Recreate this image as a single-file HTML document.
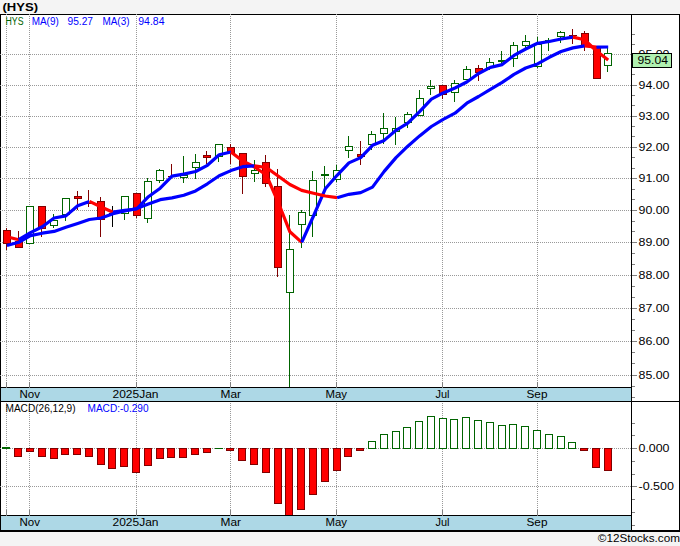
<!DOCTYPE html><html><head><meta charset="utf-8"><style>html,body{margin:0;padding:0;background:#f4f4f4;width:680px;height:546px;overflow:hidden}</style></head><body><svg width="680" height="546" viewBox="0 0 680 546" style="position:absolute;left:0;top:0;font-family:'Liberation Sans',sans-serif">
<rect x="0" y="0" width="680" height="546" fill="#f4f4f4"/>
<rect x="0" y="14" width="680" height="517" fill="#fff"/>
<rect x="1" y="388" width="630" height="13" fill="#add8e6" shape-rendering="crispEdges"/>
<rect x="1" y="516" width="630" height="14" fill="#add8e6" shape-rendering="crispEdges"/>
<g stroke="#000" stroke-width="1" shape-rendering="crispEdges">
<line x1="0" y1="387.5" x2="631" y2="387.5"/>
<line x1="0" y1="401.5" x2="680" y2="401.5"/>
<line x1="0" y1="515.5" x2="631" y2="515.5"/>
</g>
<g fill="#000" shape-rendering="crispEdges">
<rect x="0" y="14" width="680" height="1"/>
<rect x="0" y="14" width="1" height="518"/>
<rect x="679" y="14" width="1" height="518"/>
<rect x="0" y="530" width="680" height="2"/>
<rect x="631" y="14" width="1" height="517"/>
</g>
<g stroke="#999999" stroke-width="1" stroke-dasharray="1 1" shape-rendering="crispEdges" fill="none">
<line x1="0" y1="54.5" x2="631" y2="54.5"/>
<line x1="0" y1="85.5" x2="631" y2="85.5"/>
<line x1="0" y1="116.5" x2="631" y2="116.5"/>
<line x1="0" y1="147.5" x2="631" y2="147.5"/>
<line x1="0" y1="178.5" x2="631" y2="178.5"/>
<line x1="0" y1="210.5" x2="631" y2="210.5"/>
<line x1="0" y1="242.5" x2="631" y2="242.5"/>
<line x1="0" y1="275.5" x2="631" y2="275.5"/>
<line x1="0" y1="308.5" x2="631" y2="308.5"/>
<line x1="0" y1="341.5" x2="631" y2="341.5"/>
<line x1="0" y1="375.5" x2="631" y2="375.5"/>
<line x1="0" y1="448.5" x2="631" y2="448.5"/>
<line x1="0" y1="486.5" x2="631" y2="486.5"/>
<line x1="6.5" y1="14" x2="6.5" y2="382"/>
<line x1="6.5" y1="403" x2="6.5" y2="510"/>
<line x1="29.5" y1="14" x2="29.5" y2="382"/>
<line x1="29.5" y1="403" x2="29.5" y2="510"/>
<line x1="136.5" y1="14" x2="136.5" y2="382"/>
<line x1="136.5" y1="403" x2="136.5" y2="510"/>
<line x1="230.5" y1="14" x2="230.5" y2="382"/>
<line x1="230.5" y1="403" x2="230.5" y2="510"/>
<line x1="336.5" y1="14" x2="336.5" y2="382"/>
<line x1="336.5" y1="403" x2="336.5" y2="510"/>
<line x1="442.5" y1="14" x2="442.5" y2="382"/>
<line x1="442.5" y1="403" x2="442.5" y2="510"/>
<line x1="537.5" y1="14" x2="537.5" y2="382"/>
<line x1="537.5" y1="403" x2="537.5" y2="510"/>
</g>
<g shape-rendering="crispEdges" stroke-width="1">
<rect x="2" y="447" width="8" height="2" fill="#006400"/>
<rect x="14.5" y="448.5" width="7" height="8" fill="#ff0000" stroke="#800000"/>
<rect x="26.5" y="448.5" width="7" height="3" fill="#ff0000" stroke="#800000"/>
<rect x="38.5" y="448.5" width="7" height="8" fill="#ff0000" stroke="#800000"/>
<rect x="50.5" y="448.5" width="7" height="10" fill="#ff0000" stroke="#800000"/>
<rect x="61.5" y="448.5" width="7" height="6" fill="#ff0000" stroke="#800000"/>
<rect x="73.5" y="448.5" width="7" height="6" fill="#ff0000" stroke="#800000"/>
<rect x="85.5" y="448.5" width="7" height="8" fill="#ff0000" stroke="#800000"/>
<rect x="97.5" y="448.5" width="7" height="16" fill="#ff0000" stroke="#800000"/>
<rect x="108.5" y="448.5" width="7" height="20" fill="#ff0000" stroke="#800000"/>
<rect x="120.5" y="448.5" width="7" height="18" fill="#ff0000" stroke="#800000"/>
<rect x="132.5" y="448.5" width="7" height="24" fill="#ff0000" stroke="#800000"/>
<rect x="144.5" y="448.5" width="7" height="17" fill="#ff0000" stroke="#800000"/>
<rect x="156.5" y="448.5" width="7" height="10" fill="#ff0000" stroke="#800000"/>
<rect x="167.5" y="448.5" width="7" height="9" fill="#ff0000" stroke="#800000"/>
<rect x="179.5" y="448.5" width="7" height="9" fill="#ff0000" stroke="#800000"/>
<rect x="191.5" y="448.5" width="7" height="6" fill="#ff0000" stroke="#800000"/>
<rect x="203.5" y="448.5" width="7" height="4" fill="#ff0000" stroke="#800000"/>
<rect x="215" y="448" width="8" height="1" fill="#006400"/>
<rect x="226.5" y="448.5" width="7" height="2" fill="#ff0000" stroke="#800000"/>
<rect x="238.5" y="448.5" width="7" height="12" fill="#ff0000" stroke="#800000"/>
<rect x="250.5" y="448.5" width="7" height="16" fill="#ff0000" stroke="#800000"/>
<rect x="262.5" y="448.5" width="7" height="24" fill="#ff0000" stroke="#800000"/>
<rect x="274.5" y="448.5" width="7" height="55" fill="#ff0000" stroke="#800000"/>
<rect x="285.5" y="448.5" width="7" height="68" fill="#ff0000" stroke="#800000"/>
<rect x="297.5" y="448.5" width="7" height="61" fill="#ff0000" stroke="#800000"/>
<rect x="309.5" y="448.5" width="7" height="46" fill="#ff0000" stroke="#800000"/>
<rect x="321.5" y="448.5" width="7" height="33" fill="#ff0000" stroke="#800000"/>
<rect x="333.5" y="448.5" width="7" height="22" fill="#ff0000" stroke="#800000"/>
<rect x="344.5" y="448.5" width="7" height="8" fill="#ff0000" stroke="#800000"/>
<rect x="356.5" y="448.5" width="7" height="2" fill="#ff0000" stroke="#800000"/>
<rect x="368.5" y="441.5" width="7" height="7" fill="#fff" stroke="#006400"/>
<rect x="380.5" y="434.5" width="7" height="14" fill="#fff" stroke="#006400"/>
<rect x="392.5" y="431.5" width="7" height="17" fill="#fff" stroke="#006400"/>
<rect x="403.5" y="427.5" width="7" height="21" fill="#fff" stroke="#006400"/>
<rect x="415.5" y="421.5" width="7" height="27" fill="#fff" stroke="#006400"/>
<rect x="427.5" y="416.5" width="7" height="32" fill="#fff" stroke="#006400"/>
<rect x="439.5" y="418.5" width="7" height="30" fill="#fff" stroke="#006400"/>
<rect x="450.5" y="419.5" width="7" height="29" fill="#fff" stroke="#006400"/>
<rect x="462.5" y="417.5" width="7" height="31" fill="#fff" stroke="#006400"/>
<rect x="474.5" y="420.5" width="7" height="28" fill="#fff" stroke="#006400"/>
<rect x="486.5" y="422.5" width="7" height="26" fill="#fff" stroke="#006400"/>
<rect x="498.5" y="425.5" width="7" height="23" fill="#fff" stroke="#006400"/>
<rect x="509.5" y="424.5" width="7" height="24" fill="#fff" stroke="#006400"/>
<rect x="521.5" y="426.5" width="7" height="22" fill="#fff" stroke="#006400"/>
<rect x="533.5" y="430.5" width="7" height="18" fill="#fff" stroke="#006400"/>
<rect x="545.5" y="434.5" width="7" height="14" fill="#fff" stroke="#006400"/>
<rect x="557.5" y="436.5" width="7" height="12" fill="#fff" stroke="#006400"/>
<rect x="568.5" y="442.5" width="7" height="6" fill="#fff" stroke="#006400"/>
<rect x="580.5" y="448.5" width="7" height="2" fill="#ff0000" stroke="#800000"/>
<rect x="592.5" y="448.5" width="7" height="19" fill="#ff0000" stroke="#800000"/>
<rect x="604.5" y="448.5" width="7" height="22" fill="#ff0000" stroke="#800000"/>
</g>
<rect x="1" y="515" width="630" height="1" fill="#000" shape-rendering="crispEdges"/>
<rect x="1" y="516" width="630" height="14" fill="#add8e6" shape-rendering="crispEdges"/>
<g shape-rendering="crispEdges" stroke-width="1">
<line x1="6.5" y1="228" x2="6.5" y2="250" stroke="#800000"/>
<rect x="3.5" y="230.5" width="7" height="13" fill="#ff0000" stroke="#800000"/>
<line x1="18.5" y1="231" x2="18.5" y2="248" stroke="#800000"/>
<rect x="15.5" y="241.5" width="7" height="6" fill="#ff0000" stroke="#800000"/>
<line x1="29.5" y1="206" x2="29.5" y2="244" stroke="#006400"/>
<rect x="26.5" y="206.5" width="7" height="37" fill="#ffffff" stroke="#006400"/>
<line x1="41.5" y1="206" x2="41.5" y2="237" stroke="#800000"/>
<rect x="38.5" y="206.5" width="7" height="22" fill="#ff0000" stroke="#800000"/>
<line x1="53.5" y1="214" x2="53.5" y2="228" stroke="#006400"/>
<rect x="50.5" y="220.5" width="7" height="5" fill="#ffffff" stroke="#006400"/>
<line x1="65.5" y1="198" x2="65.5" y2="221" stroke="#006400"/>
<rect x="62.5" y="198.5" width="7" height="16" fill="#ffffff" stroke="#006400"/>
<line x1="77.5" y1="191" x2="77.5" y2="210" stroke="#800000"/>
<rect x="74.5" y="196.5" width="7" height="2" fill="#ff0000" stroke="#800000"/>
<line x1="88.5" y1="190" x2="88.5" y2="207" stroke="#800000"/>
<rect x="85" y="203" width="8" height="1" fill="#800000"/>
<line x1="100.5" y1="197" x2="100.5" y2="237" stroke="#800000"/>
<rect x="97.5" y="201.5" width="7" height="18" fill="#ff0000" stroke="#800000"/>
<line x1="112.5" y1="206" x2="112.5" y2="227" stroke="#000000"/>
<rect x="109" y="213" width="8" height="1" fill="#000000"/>
<line x1="124.5" y1="196" x2="124.5" y2="220" stroke="#006400"/>
<rect x="121.5" y="196.5" width="7" height="17" fill="#ffffff" stroke="#006400"/>
<line x1="136.5" y1="193" x2="136.5" y2="218" stroke="#800000"/>
<rect x="133.5" y="193.5" width="7" height="22" fill="#ff0000" stroke="#800000"/>
<line x1="147.5" y1="178" x2="147.5" y2="223" stroke="#006400"/>
<rect x="144.5" y="181.5" width="7" height="37" fill="#ffffff" stroke="#006400"/>
<line x1="159.5" y1="169" x2="159.5" y2="183" stroke="#006400"/>
<rect x="156.5" y="170.5" width="7" height="10" fill="#ffffff" stroke="#006400"/>
<line x1="171.5" y1="164" x2="171.5" y2="177" stroke="#800000"/>
<rect x="168" y="176" width="8" height="1" fill="#800000"/>
<line x1="183.5" y1="156" x2="183.5" y2="183" stroke="#006400"/>
<rect x="180.5" y="175.5" width="7" height="2" fill="#ffffff" stroke="#006400"/>
<line x1="195.5" y1="154" x2="195.5" y2="179" stroke="#006400"/>
<rect x="192.5" y="162.5" width="7" height="5" fill="#ffffff" stroke="#006400"/>
<line x1="206.5" y1="151" x2="206.5" y2="164" stroke="#800000"/>
<rect x="203.5" y="155.5" width="7" height="2" fill="#ff0000" stroke="#800000"/>
<line x1="218.5" y1="144" x2="218.5" y2="162" stroke="#006400"/>
<rect x="215.5" y="144.5" width="7" height="12" fill="#ffffff" stroke="#006400"/>
<line x1="230.5" y1="144" x2="230.5" y2="164" stroke="#800000"/>
<rect x="227.5" y="147.5" width="7" height="5" fill="#ff0000" stroke="#800000"/>
<line x1="242.5" y1="153" x2="242.5" y2="194" stroke="#800000"/>
<rect x="239.5" y="153.5" width="7" height="23" fill="#ff0000" stroke="#800000"/>
<line x1="254.5" y1="160" x2="254.5" y2="182" stroke="#006400"/>
<rect x="251.5" y="170.5" width="7" height="3" fill="#ffffff" stroke="#006400"/>
<line x1="265.5" y1="155" x2="265.5" y2="187" stroke="#800000"/>
<rect x="262.5" y="162.5" width="7" height="21" fill="#ff0000" stroke="#800000"/>
<line x1="277.5" y1="169" x2="277.5" y2="277" stroke="#800000"/>
<rect x="274.5" y="186.5" width="7" height="81" fill="#ff0000" stroke="#800000"/>
<line x1="289.5" y1="215" x2="289.5" y2="387" stroke="#006400"/>
<rect x="286.5" y="249.5" width="7" height="43" fill="#ffffff" stroke="#006400"/>
<line x1="301.5" y1="210" x2="301.5" y2="248" stroke="#006400"/>
<rect x="298.5" y="212.5" width="7" height="12" fill="#ffffff" stroke="#006400"/>
<line x1="312.5" y1="171" x2="312.5" y2="237" stroke="#006400"/>
<rect x="309.5" y="180.5" width="7" height="35" fill="#ffffff" stroke="#006400"/>
<line x1="324.5" y1="166" x2="324.5" y2="188" stroke="#006400"/>
<rect x="321" y="174" width="8" height="2" fill="#006400"/>
<line x1="336.5" y1="165" x2="336.5" y2="182" stroke="#006400"/>
<rect x="333.5" y="170.5" width="7" height="9" fill="#ffffff" stroke="#006400"/>
<line x1="348.5" y1="136" x2="348.5" y2="158" stroke="#006400"/>
<rect x="345.5" y="146.5" width="7" height="4" fill="#ffffff" stroke="#006400"/>
<line x1="360.5" y1="141" x2="360.5" y2="165" stroke="#800000"/>
<rect x="357.5" y="154.5" width="7" height="2" fill="#ff0000" stroke="#800000"/>
<line x1="371.5" y1="131" x2="371.5" y2="150" stroke="#006400"/>
<rect x="368.5" y="134.5" width="7" height="10" fill="#ffffff" stroke="#006400"/>
<line x1="383.5" y1="113" x2="383.5" y2="144" stroke="#006400"/>
<rect x="380.5" y="128.5" width="7" height="5" fill="#ffffff" stroke="#006400"/>
<line x1="395.5" y1="117" x2="395.5" y2="145" stroke="#006400"/>
<rect x="392.5" y="128.5" width="7" height="3" fill="#ffffff" stroke="#006400"/>
<line x1="407.5" y1="112" x2="407.5" y2="128" stroke="#006400"/>
<rect x="404.5" y="114.5" width="7" height="8" fill="#ffffff" stroke="#006400"/>
<line x1="419.5" y1="90" x2="419.5" y2="115" stroke="#006400"/>
<rect x="416.5" y="98.5" width="7" height="17" fill="#ffffff" stroke="#006400"/>
<line x1="430.5" y1="80" x2="430.5" y2="95" stroke="#006400"/>
<rect x="427.5" y="86.5" width="7" height="2" fill="#ffffff" stroke="#006400"/>
<line x1="442.5" y1="85" x2="442.5" y2="99" stroke="#800000"/>
<rect x="439.5" y="85.5" width="7" height="9" fill="#ff0000" stroke="#800000"/>
<line x1="454.5" y1="80" x2="454.5" y2="102" stroke="#006400"/>
<rect x="451.5" y="83.5" width="7" height="9" fill="#ffffff" stroke="#006400"/>
<line x1="466.5" y1="66" x2="466.5" y2="80" stroke="#006400"/>
<rect x="463.5" y="69.5" width="7" height="10" fill="#ffffff" stroke="#006400"/>
<line x1="478.5" y1="65" x2="478.5" y2="81" stroke="#800000"/>
<rect x="475.5" y="68.5" width="7" height="4" fill="#ff0000" stroke="#800000"/>
<line x1="489.5" y1="58" x2="489.5" y2="70" stroke="#006400"/>
<rect x="486.5" y="62.5" width="7" height="5" fill="#ffffff" stroke="#006400"/>
<line x1="501.5" y1="51" x2="501.5" y2="64" stroke="#006400"/>
<rect x="498" y="60" width="8" height="2" fill="#006400"/>
<line x1="513.5" y1="42" x2="513.5" y2="67" stroke="#006400"/>
<rect x="510.5" y="45.5" width="7" height="13" fill="#ffffff" stroke="#006400"/>
<line x1="525.5" y1="35" x2="525.5" y2="48" stroke="#006400"/>
<rect x="522.5" y="41.5" width="7" height="4" fill="#ffffff" stroke="#006400"/>
<line x1="537.5" y1="37" x2="537.5" y2="68" stroke="#006400"/>
<rect x="534.5" y="44.5" width="7" height="22" fill="#ffffff" stroke="#006400"/>
<line x1="548.5" y1="38" x2="548.5" y2="51" stroke="#006400"/>
<rect x="545" y="40" width="8" height="1" fill="#006400"/>
<line x1="560.5" y1="31" x2="560.5" y2="43" stroke="#006400"/>
<rect x="557.5" y="32.5" width="7" height="4" fill="#ffffff" stroke="#006400"/>
<line x1="572.5" y1="29" x2="572.5" y2="44" stroke="#800000"/>
<rect x="569" y="35" width="8" height="1" fill="#800000"/>
<line x1="584.5" y1="31" x2="584.5" y2="51" stroke="#800000"/>
<rect x="581.5" y="33.5" width="7" height="13" fill="#ff0000" stroke="#800000"/>
<line x1="596.5" y1="46" x2="596.5" y2="78" stroke="#800000"/>
<rect x="593.5" y="46.5" width="7" height="32" fill="#ff0000" stroke="#800000"/>
<line x1="607.5" y1="47" x2="607.5" y2="72" stroke="#006400"/>
<rect x="604.5" y="53.5" width="7" height="12" fill="#ffffff" stroke="#006400"/>
</g>
<polyline points="6.9,236.7 18.7,239.7" fill="none" stroke="#ff0000" stroke-width="3.2" stroke-linejoin="round" stroke-linecap="butt"/>
<polyline points="18.7,239.7 30.5,232.6 42.3,226.8 54.1,218.0 65.9,215.9 77.7,205.8 89.4,201.4" fill="none" stroke="#0000ff" stroke-width="3.2" stroke-linejoin="round" stroke-linecap="butt"/>
<polyline points="89.4,201.4 101.2,207.0 113.0,212.2" fill="none" stroke="#ff0000" stroke-width="3.2" stroke-linejoin="round" stroke-linecap="butt"/>
<polyline points="113.0,212.2 124.8,210.3 136.6,209.0 148.4,196.7 160.2,188.2 172.0,176.2 183.8,174.1 195.6,171.5 207.4,165.3 219.2,154.7 230.9,152.0" fill="none" stroke="#0000ff" stroke-width="3.2" stroke-linejoin="round" stroke-linecap="butt"/>
<polyline points="230.9,152.0 242.7,160.9 254.5,167.0 266.3,175.0 278.1,202.0 289.9,231.8 301.7,242.4" fill="none" stroke="#ff0000" stroke-width="3.2" stroke-linejoin="round" stroke-linecap="butt"/>
<polyline points="301.7,242.4 313.5,216.0 325.3,188.8 337.1,175.3 348.9,162.9 360.7,157.6 372.5,145.3 384.2,140.4 396.0,130.3 407.8,123.2 419.6,111.6 431.4,99.1 443.2,92.9 455.0,88.0 466.8,82.0 478.6,73.5 490.4,67.4 502.2,64.6 514.0,55.4 525.7,49.0 537.5,43.3 549.3,41.5 561.1,39.0 572.9,37.1" fill="none" stroke="#0000ff" stroke-width="3.2" stroke-linejoin="round" stroke-linecap="butt"/>
<polyline points="572.9,37.1 584.7,39.8 596.5,51.0 608.2,59.9" fill="none" stroke="#ff0000" stroke-width="3.2" stroke-linejoin="round" stroke-linecap="butt"/>
<polyline points="6.9,245.5 18.7,242.3 30.5,235.6 42.3,233.2 54.1,231.4 65.9,227.3 77.7,223.5 89.4,219.5 101.2,218.0 113.0,213.8 124.8,211.0 136.6,208.5 148.4,204.1 160.2,199.7 172.0,197.9 183.8,195.3 195.6,190.9 207.4,183.8 219.2,175.7 230.9,170.6 242.7,166.7 254.5,165.8" fill="none" stroke="#0000ff" stroke-width="3.2" stroke-linejoin="round" stroke-linecap="butt"/>
<polyline points="254.5,165.8 266.3,167.5 278.1,176.0 289.9,184.5 301.7,190.4 313.5,193.2 325.3,196.0 337.1,197.7" fill="none" stroke="#ff0000" stroke-width="3.2" stroke-linejoin="round" stroke-linecap="butt"/>
<polyline points="337.1,197.7 348.9,194.3 360.7,192.6 372.5,187.1 384.2,171.4 396.0,157.6 407.8,146.2 419.6,135.9 431.4,126.5 443.2,119.4 455.0,113.2 466.8,103.2 478.6,96.5 490.4,89.4 502.2,82.4 514.0,74.4 525.7,68.0 537.5,63.9 549.3,57.3 561.1,51.5 572.9,47.9 584.7,45.8" fill="none" stroke="#0000ff" stroke-width="3.2" stroke-linejoin="round" stroke-linecap="butt"/>
<polyline points="584.7,45.8 596.5,47.2" fill="none" stroke="#ff0000" stroke-width="3.2" stroke-linejoin="round" stroke-linecap="butt"/>
<polyline points="596.5,47.2 608.2,47.0" fill="none" stroke="#0000ff" stroke-width="3.2" stroke-linejoin="round" stroke-linecap="butt"/>
<g stroke="#808080" stroke-width="1" shape-rendering="crispEdges">
<line x1="6.5" y1="382" x2="6.5" y2="388"/>
<line x1="6.5" y1="510" x2="6.5" y2="516"/>
<line x1="29.5" y1="382" x2="29.5" y2="388"/>
<line x1="29.5" y1="510" x2="29.5" y2="516"/>
<line x1="136.5" y1="382" x2="136.5" y2="388"/>
<line x1="136.5" y1="510" x2="136.5" y2="516"/>
<line x1="230.5" y1="382" x2="230.5" y2="388"/>
<line x1="230.5" y1="510" x2="230.5" y2="516"/>
<line x1="336.5" y1="382" x2="336.5" y2="388"/>
<line x1="336.5" y1="510" x2="336.5" y2="516"/>
<line x1="442.5" y1="382" x2="442.5" y2="388"/>
<line x1="442.5" y1="510" x2="442.5" y2="516"/>
<line x1="537.5" y1="382" x2="537.5" y2="388"/>
<line x1="537.5" y1="510" x2="537.5" y2="516"/>
</g>
<g stroke="#808080" stroke-width="1" shape-rendering="crispEdges">
<line x1="632" y1="54.5" x2="637" y2="54.5"/>
<line x1="632" y1="85.5" x2="637" y2="85.5"/>
<line x1="632" y1="116.5" x2="637" y2="116.5"/>
<line x1="632" y1="147.5" x2="637" y2="147.5"/>
<line x1="632" y1="178.5" x2="637" y2="178.5"/>
<line x1="632" y1="210.5" x2="637" y2="210.5"/>
<line x1="632" y1="242.5" x2="637" y2="242.5"/>
<line x1="632" y1="275.5" x2="637" y2="275.5"/>
<line x1="632" y1="308.5" x2="637" y2="308.5"/>
<line x1="632" y1="341.5" x2="637" y2="341.5"/>
<line x1="632" y1="375.5" x2="637" y2="375.5"/>
<line x1="632" y1="448.5" x2="637" y2="448.5"/>
<line x1="632" y1="486.5" x2="637" y2="486.5"/>
<line x1="632" y1="363.5" x2="635" y2="363.5"/>
<line x1="632" y1="352.5" x2="635" y2="352.5"/>
<line x1="632" y1="330.5" x2="635" y2="330.5"/>
<line x1="632" y1="319.5" x2="635" y2="319.5"/>
<line x1="632" y1="297.5" x2="635" y2="297.5"/>
<line x1="632" y1="286.5" x2="635" y2="286.5"/>
<line x1="632" y1="264.5" x2="635" y2="264.5"/>
<line x1="632" y1="253.5" x2="635" y2="253.5"/>
<line x1="632" y1="231.5" x2="635" y2="231.5"/>
<line x1="632" y1="221.5" x2="635" y2="221.5"/>
<line x1="632" y1="199.5" x2="635" y2="199.5"/>
<line x1="632" y1="189.5" x2="635" y2="189.5"/>
<line x1="632" y1="168.5" x2="635" y2="168.5"/>
<line x1="632" y1="157.5" x2="635" y2="157.5"/>
<line x1="632" y1="136.5" x2="635" y2="136.5"/>
<line x1="632" y1="126.5" x2="635" y2="126.5"/>
<line x1="632" y1="105.5" x2="635" y2="105.5"/>
<line x1="632" y1="95.5" x2="635" y2="95.5"/>
<line x1="632" y1="74.5" x2="635" y2="74.5"/>
<line x1="632" y1="64.5" x2="635" y2="64.5"/>
<line x1="632" y1="44.5" x2="635" y2="44.5"/>
<line x1="632" y1="34.5" x2="635" y2="34.5"/>
<line x1="632" y1="386.5" x2="635" y2="386.5"/>
<line x1="632" y1="397.5" x2="635" y2="397.5"/>
<line x1="632" y1="423.5" x2="635" y2="423.5"/>
<line x1="632" y1="435.5" x2="635" y2="435.5"/>
<line x1="632" y1="461.5" x2="635" y2="461.5"/>
<line x1="632" y1="474.5" x2="635" y2="474.5"/>
<line x1="632" y1="499.5" x2="635" y2="499.5"/>
<line x1="632" y1="512.5" x2="635" y2="512.5"/>
<line x1="632" y1="525.5" x2="635" y2="525.5"/>
</g>
<g font-size="11" fill="#000">
<text x="638.5" y="57.7" textLength="31" lengthAdjust="spacingAndGlyphs">95.00</text>
<text x="638.5" y="88.7" textLength="31" lengthAdjust="spacingAndGlyphs">94.00</text>
<text x="638.5" y="119.7" textLength="31" lengthAdjust="spacingAndGlyphs">93.00</text>
<text x="638.5" y="150.7" textLength="31" lengthAdjust="spacingAndGlyphs">92.00</text>
<text x="638.5" y="181.7" textLength="31" lengthAdjust="spacingAndGlyphs">91.00</text>
<text x="638.5" y="213.7" textLength="31" lengthAdjust="spacingAndGlyphs">90.00</text>
<text x="638.5" y="245.7" textLength="31" lengthAdjust="spacingAndGlyphs">89.00</text>
<text x="638.5" y="278.7" textLength="31" lengthAdjust="spacingAndGlyphs">88.00</text>
<text x="638.5" y="311.7" textLength="31" lengthAdjust="spacingAndGlyphs">87.00</text>
<text x="638.5" y="344.7" textLength="31" lengthAdjust="spacingAndGlyphs">86.00</text>
<text x="638.5" y="378.7" textLength="31" lengthAdjust="spacingAndGlyphs">85.00</text>
<text x="638.5" y="452" textLength="31" lengthAdjust="spacingAndGlyphs">0.000</text>
<text x="638.5" y="490" textLength="35.5" lengthAdjust="spacingAndGlyphs">-0.500</text>
</g>
<rect x="632.5" y="53.5" width="39" height="14" fill="#b0f0b0" stroke="#000" stroke-width="1" shape-rendering="crispEdges"/>
<text x="637.5" y="64" font-size="11" fill="#000" textLength="30.5" lengthAdjust="spacingAndGlyphs">95.04</text>
<text x="19.5" y="397.5" font-size="11" fill="#000" textLength="20.5" lengthAdjust="spacingAndGlyphs">Nov</text>
<text x="112.5" y="397.5" font-size="11" fill="#000" textLength="46.0" lengthAdjust="spacingAndGlyphs">2025Jan</text>
<text x="220.5" y="397.5" font-size="11" fill="#000" textLength="20.5" lengthAdjust="spacingAndGlyphs">Mar</text>
<text x="325.5" y="397.5" font-size="11" fill="#000" textLength="21.5" lengthAdjust="spacingAndGlyphs">May</text>
<text x="435.5" y="397.5" font-size="11" fill="#000" textLength="14.0" lengthAdjust="spacingAndGlyphs">Jul</text>
<text x="526.5" y="397.5" font-size="11" fill="#000" textLength="21.0" lengthAdjust="spacingAndGlyphs">Sep</text>
<text x="19.5" y="526" font-size="11" fill="#000" textLength="20.5" lengthAdjust="spacingAndGlyphs">Nov</text>
<text x="112.5" y="526" font-size="11" fill="#000" textLength="46.0" lengthAdjust="spacingAndGlyphs">2025Jan</text>
<text x="220.5" y="526" font-size="11" fill="#000" textLength="20.5" lengthAdjust="spacingAndGlyphs">Mar</text>
<text x="325.5" y="526" font-size="11" fill="#000" textLength="21.5" lengthAdjust="spacingAndGlyphs">May</text>
<text x="435.5" y="526" font-size="11" fill="#000" textLength="14.0" lengthAdjust="spacingAndGlyphs">Jul</text>
<text x="526.5" y="526" font-size="11" fill="#000" textLength="21.0" lengthAdjust="spacingAndGlyphs">Sep</text>
<text x="5.5" y="25" font-size="10" fill="#006400" textLength="18.0" lengthAdjust="spacingAndGlyphs" >HYS</text>
<text x="31.75" y="25" font-size="10" fill="#0000ff" textLength="27.0" lengthAdjust="spacingAndGlyphs" >MA(9)</text>
<text x="67.5" y="25" font-size="10" fill="#0000ff" textLength="25.5" lengthAdjust="spacingAndGlyphs" >95.27</text>
<text x="102.5" y="25" font-size="10" fill="#0000ff" textLength="27.0" lengthAdjust="spacingAndGlyphs" >MA(3)</text>
<text x="138.25" y="25" font-size="10" fill="#0000ff" textLength="26.25" lengthAdjust="spacingAndGlyphs" >94.84</text>
<text x="5.5" y="412" font-size="10" fill="#000" textLength="70.0" lengthAdjust="spacingAndGlyphs" >MACD(26,12,9)</text>
<text x="87.5" y="412" font-size="10" fill="#0000ff" textLength="61.0" lengthAdjust="spacingAndGlyphs" >MACD:-0.290</text>
<text x="2.5" y="10.8" font-size="11" fill="#000" textLength="35.5" lengthAdjust="spacingAndGlyphs" font-weight="bold">(HYS)</text>
<text x="597.75" y="542.2" font-size="11" fill="#000" textLength="82.25" lengthAdjust="spacingAndGlyphs" >©12Stocks.com</text>
</svg></body></html>
